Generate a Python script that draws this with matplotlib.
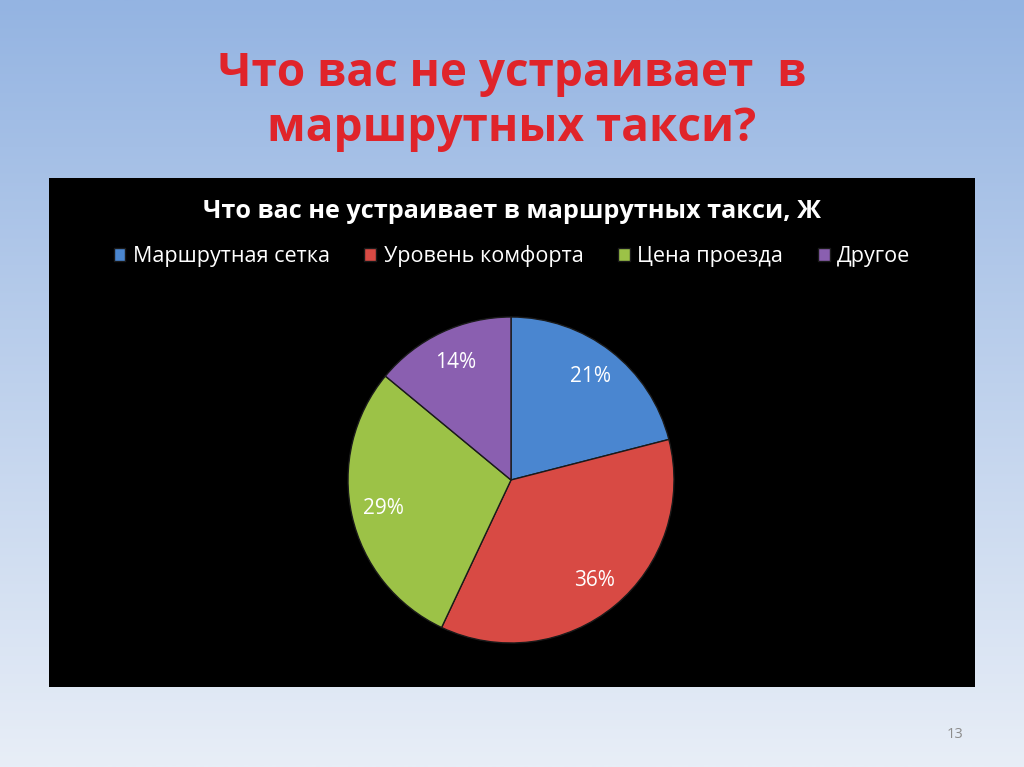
import numpy as np
import matplotlib
matplotlib.use('Agg')
import matplotlib.pyplot as plt

plt.rcParams['font.family'] = ['Open Sans', 'DejaVu Sans']

# data
categories = ['Маршрутная сетка', 'Уровень комфорта', 'Цена проезда', 'Другое']
shares = [21, 36, 29, 14]
colors = ['#4a86d0', '#d84a44', '#9cc247', '#8a5fb0']
slide_title = 'Что вас не устраивает  в\nмаршрутных такси?'
chart_title = 'Что вас не устраивает в маршрутных такси, Ж'
page_no = '13'

W, H = 1024, 767
fig = plt.figure(figsize=(W / 100, H / 100), dpi=100)

# slide background: vertical gradient
bg = fig.add_axes([0, 0, 1, 1])
top = np.array([148, 180, 226]) / 255
bot = np.array([232, 238, 247]) / 255
t = np.linspace(0, 1, 256)[:, None]
grad = top * (1 - t) + bot * t
bg.imshow(grad[:, None, :], aspect='auto', extent=[0, 1, 0, 1])
bg.set_axis_off()

fig.text(0.5, 1 - 101 / H, slide_title, ha='center', va='center',
         color='#e0242a', fontsize=33, fontweight='bold', linespacing=1.22)

# black chart panel
panel = fig.add_axes([49 / W, 1 - 687 / H, 926 / W, 509 / H])
panel.set_facecolor('black')
panel.set_xticks([])
panel.set_yticks([])
for s in panel.spines.values():
    s.set_visible(False)
panel.text(0.5, 1 - (211 - 178) / 509, chart_title, transform=panel.transAxes,
           ha='center', va='center', color='white', fontsize=18.2, fontweight='bold')

# pie
cx, cy, r = 511, 480, 163
ax = fig.add_axes([(cx - r) / W, 1 - (cy + r) / H, 2 * r / W, 2 * r / H])
wedges, texts, autotexts = ax.pie(
    shares, colors=colors, startangle=90, counterclock=False,
    autopct='%d%%', pctdistance=0.8, radius=1,
    wedgeprops=dict(edgecolor='#1a1a1a', linewidth=1),
    textprops=dict(color='white', fontsize=15))
ax.set_xlim(-1, 1)
ax.set_ylim(-1, 1)
ax.set_aspect('equal')

leg = panel.legend(wedges, categories, loc='center', ncol=4,
                   bbox_to_anchor=(0.5, 1 - (256 - 178) / 509),
                   frameon=False, fontsize=15.5, labelcolor='white',
                   handlelength=0.55, handleheight=0.55, handletextpad=0.35,
                   columnspacing=1.6)

fig.text(955 / W, 1 - 735 / H, page_no, ha='center', va='center',
         color='#8c8c8c', fontsize=10.5)

fig.savefig('out.png', dpi=100)
